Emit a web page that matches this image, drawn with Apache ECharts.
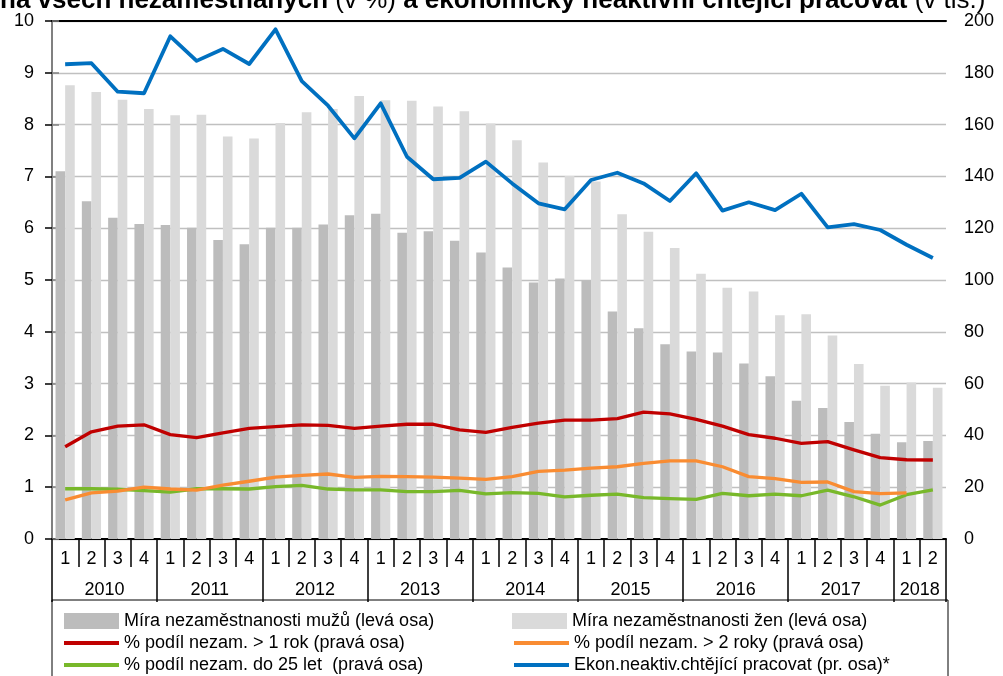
<!DOCTYPE html>
<html>
<head>
<meta charset="utf-8">
<script src="https://cdn.jsdelivr.net/npm/echarts@6/dist/echarts.min.js"></script>
<style>
html,body{margin:0;padding:0;background:#fff;}
#chart{width:1003px;height:676px;}
</style>
</head>
<body>
<div id="chart"></div>
<script>
// ---- data ----
const quarters = ['1','2','3','4','1','2','3','4','1','2','3','4','1','2','3','4','1','2','3','4','1','2','3','4','1','2','3','4','1','2','3','4','1','2'];
const yearLabels = ['2010','2011','2012','2013','2014','2015','2016','2017','2018'];
const yearQuarterCounts = [4,4,4,4,4,4,4,4,2];
const leftTicks = [0,1,2,3,4,5,6,7,8,9,10];
const rightTicks = [0,20,40,60,80,100,120,140,160,180,200];

const menRate = [7.10,6.52,6.20,6.08,6.06,6.01,5.77,5.69,6.01,6.01,6.07,6.25,6.28,5.91,5.94,5.76,5.53,5.24,4.95,5.03,4.99,4.39,4.07,3.76,3.62,3.60,3.39,3.14,2.67,2.53,2.26,2.03,1.87,1.89];
const womenRate = [8.76,8.63,8.48,8.30,8.18,8.19,7.77,7.73,8.03,8.24,8.30,8.55,8.47,8.46,8.35,8.26,8.02,7.70,7.27,7.01,6.90,6.27,5.93,5.62,5.12,4.85,4.78,4.32,4.34,3.93,3.38,2.96,3.02,2.92];
const over1y = [35.6,41.4,43.6,44.1,40.3,39.1,41.0,42.7,43.4,44.1,43.9,42.7,43.6,44.3,44.3,42.1,41.2,43.1,44.7,45.9,45.9,46.5,49.0,48.3,46.2,43.6,40.3,38.9,36.9,37.6,34.4,31.4,30.6,30.5];
const over2y = [15.1,17.8,18.5,20.0,19.3,18.9,20.8,22.3,23.9,24.6,25.1,23.8,24.2,24.1,23.9,23.5,23.0,24.1,26.1,26.6,27.4,27.9,29.2,30.2,30.2,27.9,24.1,23.3,21.9,22.0,18.3,17.5,17.8,null];
const under25 = [19.4,19.4,19.2,18.7,18.1,19.4,19.4,19.3,20.2,20.7,19.3,19.0,19.0,18.3,18.3,18.8,17.4,17.9,17.6,16.3,16.9,17.3,16.0,15.6,15.3,17.6,16.7,17.3,16.7,18.9,16.3,13.1,17.1,19.0];
const inactive = [183.3,183.7,172.7,172.1,194.1,184.6,189.2,183.4,196.8,176.8,167.3,154.7,168.2,147.6,138.9,139.4,145.7,137.3,129.6,127.3,138.6,141.4,137.3,130.5,141.2,126.8,130.0,127.0,133.3,120.3,121.6,119.3,113.6,108.5];

const names = [
  'Míra nezaměstnanosti mužů (levá osa)',
  'Míra nezaměstnanosti žen (levá osa)',
  '% podíl nezam. > 1 rok (pravá osa)',
  '% podíl nezam. > 2 roky (pravá osa)',
  '% podíl nezam. do 25 let  (pravá osa)',
  'Ekon.neaktiv.chtějící pracovat (pr. osa)*'
];

// year label positions (center of each year's span)
const yearCenters = {};
let acc = 0;
yearQuarterCounts.forEach((c, i) => { yearCenters[acc + c / 2] = yearLabels[i]; acc += c; });

const FONT = 'Arial, "Liberation Sans", sans-serif';
const chart = echarts.init(document.getElementById('chart'), null, {renderer: 'canvas'});

const lineSeries = (name, data, color, width) => ({
  name, type: 'line', data, xAxisIndex: 0, yAxisIndex: 1,
  symbol: 'none', showSymbol: false, connectNulls: false,
  lineStyle: {color, width, join: 'round'}, itemStyle: {color}
});
const hiddenSymbol = {color: 'rgba(0,0,0,0)', borderColor: 'rgba(0,0,0,0)', borderWidth: 0, opacity: 0};
const legendLine = {width: 4};

const option = {
  animation: false,
  backgroundColor: '#fff',
  title: {
    left: 0, top: -12, padding: 0,
    text: '{b|na všech nezaměstnaných }{n|(v %)}{b| a ekonomicky neaktivní chtějící pracovat }{n|(v tis.)}',
    textStyle: {
      rich: {
        b: {fontFamily: FONT, fontSize: 26, fontWeight: 'bold', color: '#000'},
        n: {fontFamily: FONT, fontSize: 26, fontWeight: 'normal', color: '#000'}
      }
    }
  },
  grid: {left: 52, right: 57, top: 21, bottom: 137},
  legend: {
    left: 52, top: 600, width: 880,
    orient: 'horizontal',
    padding: [12, 10, 12, 10],
    borderColor: '#000', borderWidth: 1,
    itemWidth: 55, itemHeight: 16, itemGap: 4,
    selectedMode: false,
    textStyle: {fontFamily: FONT, fontSize: 18, lineHeight: 18, color: '#000'},
    data: [
      {name: names[0], icon: 'rect', textStyle: {width: 384}},
      {name: names[1], icon: 'rect', textStyle: {width: 364}},
      {name: names[2], itemStyle: hiddenSymbol, lineStyle: legendLine, textStyle: {width: 384}},
      {name: names[3], itemStyle: hiddenSymbol, lineStyle: legendLine, textStyle: {width: 364}},
      {name: names[4], itemStyle: hiddenSymbol, lineStyle: legendLine, textStyle: {width: 384}},
      {name: names[5], itemStyle: hiddenSymbol, lineStyle: legendLine, textStyle: {width: 364}}
    ]
  },
  xAxis: [
    { // quarters
      type: 'category', data: quarters, position: 'bottom', boundaryGap: true,
      axisLine: {show: true, lineStyle: {color: '#000', width: 2}},
      axisTick: {show: true, interval: 0, length: 28, lineStyle: {color: '#000', width: 1.5}},
      axisLabel: {interval: 0, margin: 11, fontFamily: FONT, fontSize: 18, color: '#000'},
      splitLine: {show: false}
    },
    { // year labels
      type: 'value', min: 0, max: quarters.length, interval: 1, position: 'bottom',
      axisLine: {show: false}, axisTick: {show: false}, splitLine: {show: false},
      axisLabel: {
        margin: 42, fontFamily: FONT, fontSize: 18, color: '#000',
        showMinLabel: true, showMaxLabel: true,
        formatter: v => (yearCenters[v] !== undefined ? yearCenters[v] : '')
      }
    },
    { // year separators
      type: 'value', min: 0, max: quarters.length, interval: 4, position: 'bottom',
      axisLine: {show: false}, splitLine: {show: false}, axisLabel: {show: false},
      axisTick: {show: true, length: 63, lineStyle: {color: '#000', width: 1.5}}
    },
    { // top border
      type: 'value', min: 0, max: quarters.length, position: 'top',
      axisLine: {show: true, lineStyle: {color: '#000', width: 2}},
      axisTick: {show: false}, axisLabel: {show: false}, splitLine: {show: false}
    }
  ],
  yAxis: [
    {
      type: 'value', min: leftTicks[0], max: leftTicks[leftTicks.length - 1], interval: 1, position: 'left',
      axisLine: {show: true, lineStyle: {color: '#000', width: 2}},
      axisTick: {show: true, length: 7, lineStyle: {color: '#000', width: 1.5}},
      axisLabel: {margin: 18, fontFamily: FONT, fontSize: 18, color: '#000'},
      splitLine: {show: true, lineStyle: {color: '#c0c0c0', width: 1.3}}
    },
    {
      type: 'value', min: rightTicks[0], max: rightTicks[rightTicks.length - 1], interval: 20, position: 'right',
      axisLine: {show: true, lineStyle: {color: '#808080', width: 2}},
      axisTick: {show: true, length: 7, lineStyle: {color: '#808080', width: 1.5}},
      axisLabel: {margin: 18, fontFamily: FONT, fontSize: 18, color: '#000'},
      splitLine: {show: false}
    }
  ],
  series: [
    {name: names[0], type: 'bar', data: menRate, xAxisIndex: 0, yAxisIndex: 0,
     barGap: '0%', barCategoryGap: '27%', itemStyle: {color: '#bcbcbc'}},
    {name: names[1], type: 'bar', data: womenRate, xAxisIndex: 0, yAxisIndex: 0,
     barGap: '0%', barCategoryGap: '27%', itemStyle: {color: '#dadada'}},
    lineSeries(names[4], under25, '#78b82a', 3.3),
    lineSeries(names[3], over2y, '#f98c32', 3.3),
    lineSeries(names[2], over1y, '#c00000', 3.3),
    lineSeries(names[5], inactive, '#0070c0', 3.8)
  ]
};
chart.setOption(option);
</script>
</body>
</html>
